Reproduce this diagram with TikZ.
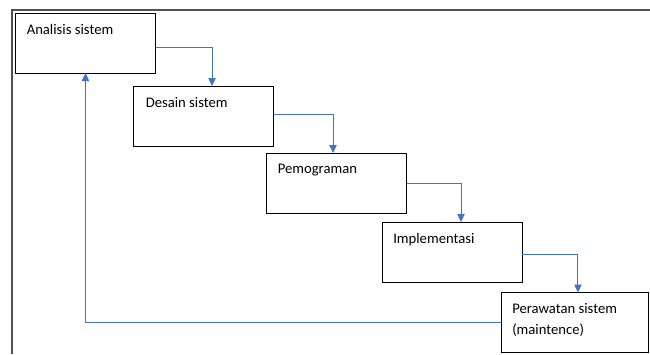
\documentclass[tikz,border=0pt]{standalone}
\usepackage{fontspec}
\setmainfont{Carlito}
\usetikzlibrary{arrows.meta}

\definecolor{arrowBlue}{HTML}{4472C4}
\definecolor{frameGray}{HTML}{505050}

\begin{document}
\begin{tikzpicture}[%%
  x=0.75pt,y=-0.75pt,%%
  boxStyle/.style={draw=black,line width=0.75pt,inner sep=0pt,outer sep=0pt,%%
    minimum width=105pt,minimum height=45pt},%%
  textStyle/.style={anchor=north west,inner sep=0pt,align=left,%%
    font=\fontsize{11pt}{15.5pt}\selectfont},%%
  arrowStyle/.style={draw=arrowBlue,line width=0.75pt,%%
    -{Triangle[length=6pt,width=5.5pt]}},%%
  frameStyle/.style={draw=frameGray,line width=1.1pt}%%
]
%%
\useasboundingbox (0,0) rectangle (650,354);
%%
%% Frame round the picture.
\draw[frameStyle] (650,10) -- (12,10) -- (12,354);
%%
\coordinate (Analisis) at (85.5,43);
\coordinate (Desain) at (203.5,116);
\coordinate (Program) at (336.5,183);
\coordinate (Implement) at (452,252);
\coordinate (Rawat) at (574.5,322.5);
%%
%%
%% Boxes of the stages.
\node (A1) at (Analisis) [boxStyle] {};
\node (A2) at (Desain) [boxStyle] {};
\node (A3) at (Program) [boxStyle] {};
\node (A4) at (Implement) [boxStyle] {};
\node (A5) at (Rawat) [boxStyle,minimum width=110.25pt] {};
%% Texts of the stages.
\node (T1) at ([shift={(8.25pt,-8pt)}]A1.north west) [textStyle] {Analisis sistem};
\node (T2) at ([shift={(9pt,-8pt)}]A2.north west) [textStyle] {Desain sistem};
\node (T3) at ([shift={(8.25pt,-8pt)}]A3.north west) [textStyle] {Pemograman};
\node (T4) at ([shift={(8.25pt,-8pt)}]A4.north west) [textStyle] {Implementasi};
\node (T5) at ([shift={(8.25pt,-8pt)}]A5.north west) [textStyle] {Perawatan sistem\\(maintence)};
%% Arrows between the stages.
\draw[arrowStyle] ([yshift=-3pt]A1.east) -| ([xshift=6.4pt]A2.north);
\draw[arrowStyle] ([yshift=1.5pt]A2.east) -| ([xshift=-2.6pt]A3.north);
\draw[arrowStyle] (A3.east) -| ([xshift=6.75pt]A4.north);
\draw[arrowStyle] ([yshift=-1.5pt]A4.east) -| ([xshift=2.6pt]A5.north);
\draw[arrowStyle] (A5.west) -| (A1.south);
\end{tikzpicture}
\end{document}
